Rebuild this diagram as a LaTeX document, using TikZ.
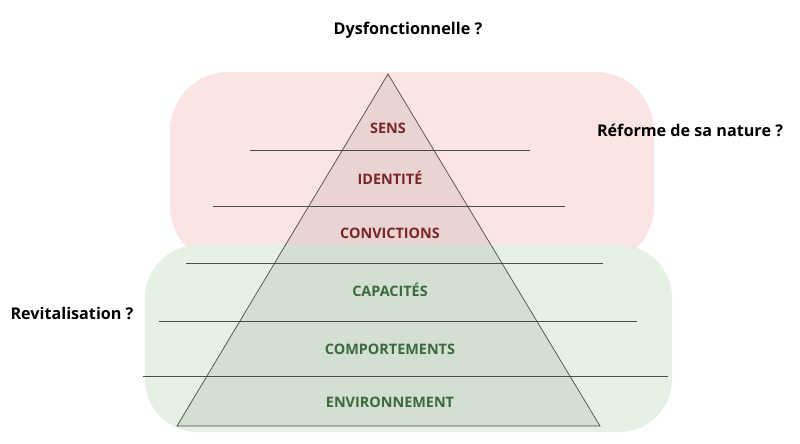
\documentclass[tikz,border=0pt]{standalone}
\usepackage{fontspec}
\setmainfont{Open Sans}
\begin{document}
\begin{tikzpicture}[x=0.03cm,y=-0.03cm,
  lbl/.style={font=\bfseries\fontsize{12.3}{14}\selectfont},
  red/.style={lbl,text={rgb,255:red,122;green,38;blue,38}},
  grn/.style={lbl,text={rgb,255:red,58;green,105;blue,58}},
  q/.style={font=\bfseries\fontsize{13.8}{16}\selectfont},
  sep/.style={draw=black!70,line width=0.5pt}]
\useasboundingbox (0,0) rectangle (800,444);
\fill[rounded corners=50pt,fill={rgb,255:red,251;green,228;blue,228}] (170,72) rectangle (654,265);
\fill[rounded corners=45pt,fill={rgb,255:red,228;green,241;blue,228}] (145,245) rectangle (672,432);
\coordinate (A) at (388,74);
\coordinate (BL) at (177,426);
\coordinate (BR) at (600,426);
\fill[black,opacity=0.07] (A) -- (BL) -- (BR) -- cycle;
\draw[black!70,line width=0.6pt] (A) -- (BL) -- (BR) -- cycle;
\foreach \y/\a/\b/\n in {150/250/530/1,206/213/565/2,263/186/603/3,321/159/637/4,376/143/668/5}{
  \coordinate (l\n) at (\a,\y); \coordinate (r\n) at (\b,\y);
  \draw[sep] (l\n) -- (r\n);}
\node[red] (s1) at (388,128) {SENS};
\node[red] (s2) at (390,178) {IDENTITÉ};
\node[red] (s3) at (390,233) {CONVICTIONS};
\node[grn] (s4) at (390,290) {CAPACITÉS};
\node[grn] (s5) at (390,349) {COMPORTEMENTS};
\node[grn] (s6) at (390,402) {ENVIRONNEMENT};
\node[q] (t) at (408,30) {Dysfonctionnelle ?};
\node[q] (rf) at (690,130) {Réforme de sa nature ?};
\node[q] (rv) at (72,313) {Revitalisation ?};
\end{tikzpicture}
\end{document}
